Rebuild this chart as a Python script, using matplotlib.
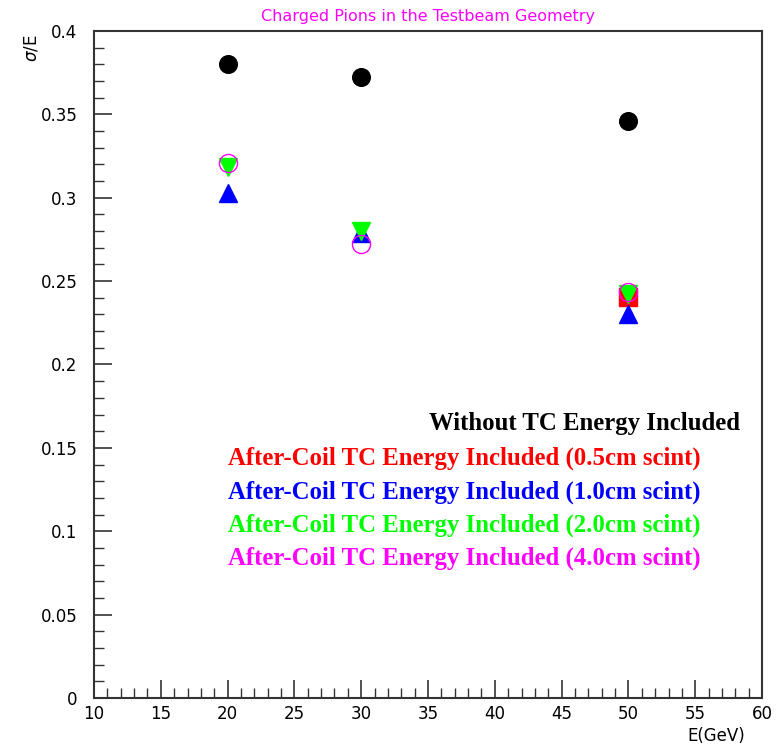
import numpy as np
import matplotlib.pyplot as plt
from matplotlib.ticker import MultipleLocator

energy = [20, 30, 50]
no_tc = [0.380, 0.3726, 0.346]
energy_05 = [50]
tc_05 = [0.2403]
tc_10 = [0.3027, 0.279, 0.2304]
tc_20 = [0.3186, 0.2802, 0.242]
tc_40 = [0.3207, 0.272, 0.2433]

labels = ["Without TC Energy Included",
          "After-Coil TC Energy Included (0.5cm scint)",
          "After-Coil TC Energy Included (1.0cm scint)",
          "After-Coil TC Energy Included (2.0cm scint)",
          "After-Coil TC Energy Included (4.0cm scint)"]

fig = plt.figure(figsize=(7.8, 7.47), dpi=100)
ax = fig.add_axes([0.1205, 0.0656, 0.8565, 0.8929])

ax.plot(energy, no_tc, 'o', color='black', ms=12.7, mec='black')
ax.plot(energy_05, tc_05, 's', color='red', ms=12.5, mec='red')
ax.plot(energy, tc_10, '^', color='blue', ms=13, mec='blue')
ax.plot(energy, tc_20, 'v', color='#00ff00', ms=13, mec='#00ff00')
ax.plot(energy, tc_40, 'o', mfc='none', mec='#ff00ff', ms=13, mew=1)

ax.set_xlim(10, 60)
ax.set_ylim(0, 0.4)
ax.xaxis.set_major_locator(MultipleLocator(5))
ax.xaxis.set_minor_locator(MultipleLocator(1))
ax.yaxis.set_major_locator(MultipleLocator(0.05))
ax.yaxis.set_minor_locator(MultipleLocator(0.01))
ax.yaxis.set_major_formatter(plt.FuncFormatter(lambda v, p: ('%g' % round(v, 3))))
ax.tick_params(which='both', direction='in', top=False, right=False,
               color='#333333', labelsize=12, labelcolor='black')
ax.tick_params(which='major', length=13, width=1.2, pad=5)
ax.tick_params(which='minor', length=7, width=1.0)
ax.tick_params(axis='y', which='major', pad=12)
for s in ax.spines.values():
    s.set_linewidth(1.5)
    s.set_color('#333333')

fig.text(0.549, 0.978, "Charged Pions in the Testbeam Geometry",
         color='#ff00ff', fontsize=11.5, ha='center', va='center')
fig.text(0.04, 0.935, r"$\sigma$/E", rotation=90, fontsize=12,
         ha='center', va='center')
fig.text(0.955, 0.015, "E(GeV)", fontsize=12, ha='right', va='center')

colors = ['black', 'red', 'blue', '#00ff00', '#ff00ff']
fs = 17.8
fig.text(740 / 780, 1 - 424 / 747, labels[0], ha='right',
         va='center', fontsize=fs, fontweight='bold', family='Liberation Serif',
         color=colors[0])
ypos = [458, 492, 525, 558]
for i in range(4):
    fig.text(228 / 780, 1 - ypos[i] / 747, labels[i + 1], ha='left',
             va='center', fontsize=fs, fontweight='bold',
             family='Liberation Serif', color=colors[i + 1])

fig.savefig("out.png", dpi=100)
